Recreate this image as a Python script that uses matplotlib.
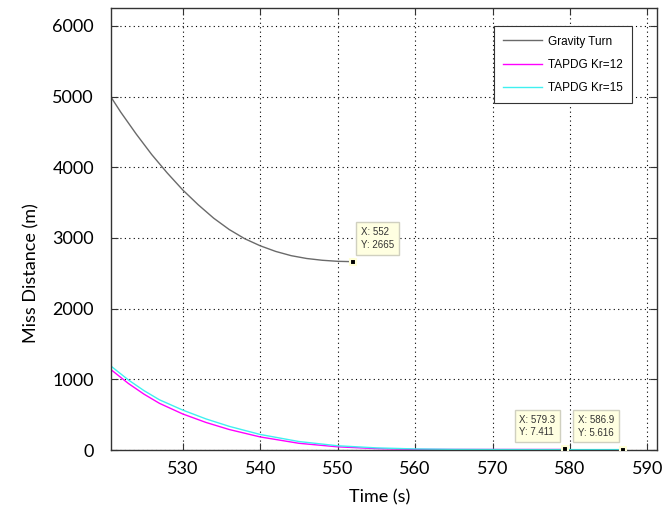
import matplotlib
matplotlib.use("Agg")
import matplotlib.pyplot as plt

# curve readings from the picture
t_grav = [520.7, 522, 524, 526, 528, 530, 532, 534, 536, 538, 540, 542, 544, 546, 548, 550, 552]
d_grav = [5000, 4780, 4470, 4180, 3920, 3680, 3470, 3280, 3120, 2990, 2890, 2810, 2750, 2710, 2685, 2670, 2665]

t_kr12 = [520.7, 523, 525, 527, 530, 533, 536, 540, 545, 550, 555, 560, 565, 570, 575, 579.3]
d_kr12 = [1140, 940, 790, 660, 510, 390, 290, 185, 95, 45, 20, 9, 8, 7.5, 7.4, 7.411]

t_kr15 = [520.7, 523, 525, 527, 530, 533, 536, 540, 545, 550, 555, 560, 565, 570, 575, 580, 586.9]
d_kr15 = [1190, 990, 840, 710, 565, 440, 335, 220, 120, 60, 30, 15, 9, 7, 6, 5.7, 5.616]

labels = ["Gravity Turn", "TAPDG Kr=12", "TAPDG Kr=15"]
tips = [(552, 2665, "X: 552\nY: 2665"), (579.3, 7.411, "X: 579.3\nY: 7.411"), (586.9, 5.616, "X: 586.9\nY: 5.616")]

fig = plt.figure(figsize=(6.71, 5.14), dpi=100)
ax = fig.add_axes([0.165, 0.1245, 0.8137, 0.86])

ax.plot(t_grav, d_grav, color="#6a6a6a", lw=1, label=labels[0])
ax.plot(t_kr12, d_kr12, color="#ff00ff", lw=1, label=labels[1])
ax.plot(t_kr15, d_kr15, color="#40f0f0", lw=1, label=labels[2])

ax.set_xlim(520.7, 591.2)
ax.set_ylim(0, 6255)
ax.set_xticks([530, 540, 550, 560, 570, 580, 590])
ax.set_yticks([0, 1000, 2000, 3000, 4000, 5000, 6000])
ax.grid(True, color="black", linestyle=(0, (1, 3)), lw=0.8)
ax.tick_params(direction="in", length=5, top=True, right=True, labelsize=13, color="#333333")
ax.tick_params(axis="y", pad=12)
ax.tick_params(axis="x", pad=8)
for lab in ax.get_xticklabels() + ax.get_yticklabels():
    lab.set_fontfamily("Lato")
for s in ax.spines.values():
    s.set_color("#333333")
    s.set_linewidth(1)

ax.set_xlabel("Time (s)", fontsize=13, fontfamily="Lato")
ax.set_ylabel("Miss Distance (m)", fontsize=13, fontfamily="Lato")
ax.xaxis.set_label_coords(0.493, -0.088)
ax.yaxis.set_label_coords(-0.131, 0.40)

leg = ax.legend(loc="upper right", bbox_to_anchor=(0.955, 0.959), borderaxespad=0,
                fancybox=False, edgecolor="#333333", framealpha=1,
                prop={"family": "Liberation Sans", "size": 8.5}, handlelength=3.3,
                handletextpad=0.5, labelspacing=0.95, borderpad=0.8)
leg.get_frame().set_linewidth(0.8)

for i, (tx, ty, txt) in enumerate(tips):
    ax.plot([tx], [ty], marker="s", color="black", ms=5, mec="#ffffd8", mew=1.5, zorder=5)
    if i == 0:
        off, ha = (8, 12), "left"
    else:
        off, ha = (-9, 12), "right"
    ax.annotate(txt, (tx, ty), xytext=off, textcoords="offset pixels", ha=ha, va="bottom",
                multialignment="left", fontsize=7, family="Liberation Sans", color="#333333",
                linespacing=1.3,
                bbox=dict(boxstyle="square,pad=0.5", fc="#ffffe1", ec="#d0d0c0", lw=1), zorder=6)

fig.savefig("out.png", dpi=100)
